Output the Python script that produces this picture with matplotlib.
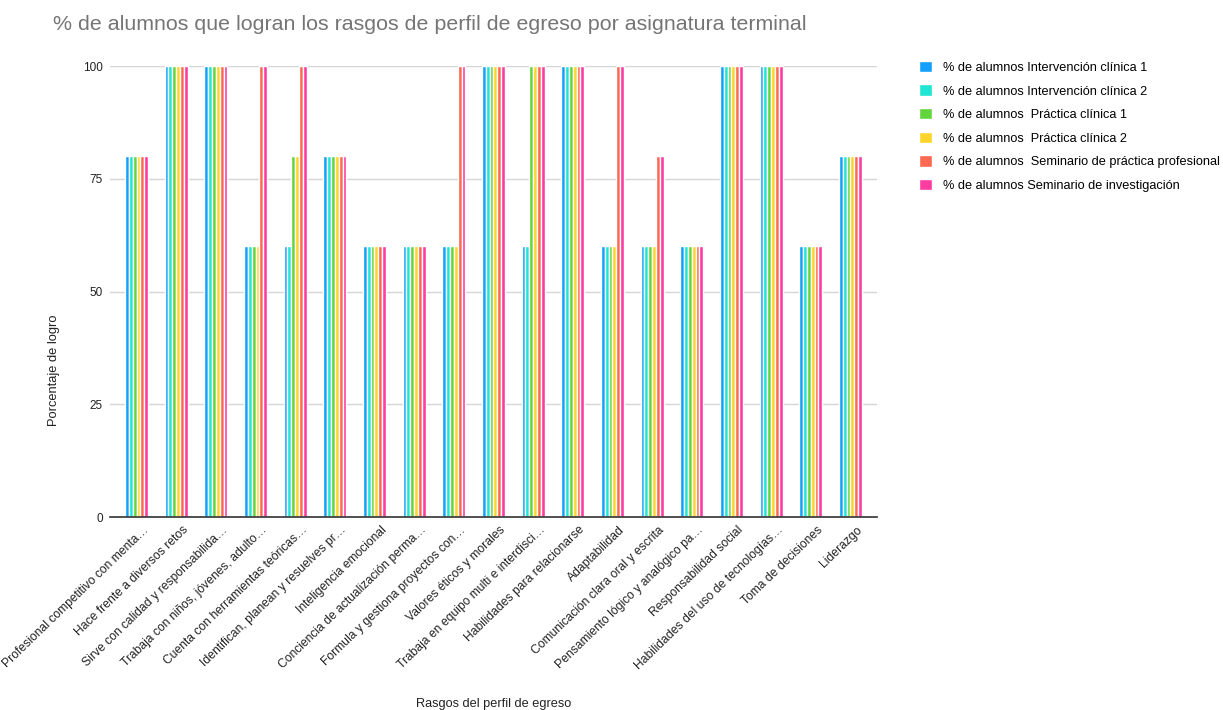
import matplotlib.pyplot as plt
import numpy as np

# rasgos del perfil de egreso (eje x)
rasgos = [
    "Profesional competitivo con menta\u2026",
    "Hace frente a diversos retos",
    "Sirve con calidad y responsabilida\u2026",
    "Trabaja con niños, jóvenes, adulto\u2026",
    "Cuenta con herramientas teóricas\u2026",
    "Identifican, planean y resuelves pr\u2026",
    "Inteligencia emocional",
    "Conciencia de actualización perma\u2026",
    "Formula y gestiona proyectos con\u2026",
    "Valores éticos y morales",
    "Trabaja en equipo multi e interdisci\u2026",
    "Habilidades para relacionarse",
    "Adaptabilidad",
    "Comunicación clara oral y escrita",
    "Pensamiento lógico y analógico pa\u2026",
    "Responsabilidad social",
    "Habilidades del uso de tecnologías\u2026",
    "Toma de decisiones",
    "Liderazgo",
]

series = [
    "% de alumnos Intervención clínica 1",
    "% de alumnos Intervención clínica 2",
    "% de alumnos  Práctica clínica 1",
    "% de alumnos  Práctica clínica 2",
    "% de alumnos  Seminario de práctica profesional",
    "% de alumnos Seminario de investigación",
]

interv_1 = [80, 100, 100, 60, 60, 80, 60, 60, 60, 100, 60, 100, 60, 60, 60, 100, 100, 60, 80]
interv_2 = [80, 100, 100, 60, 60, 80, 60, 60, 60, 100, 60, 100, 60, 60, 60, 100, 100, 60, 80]
practica_1 = [80, 100, 100, 60, 80, 80, 60, 60, 60, 100, 100, 100, 60, 60, 60, 100, 100, 60, 80]
practica_2 = [80, 100, 100, 60, 80, 80, 60, 60, 60, 100, 100, 100, 60, 60, 60, 100, 100, 60, 80]
seminario_pp = [80, 100, 100, 100, 100, 80, 60, 60, 100, 100, 100, 100, 100, 80, 60, 100, 100, 60, 80]
seminario_inv = [80, 100, 100, 100, 100, 80, 60, 60, 100, 100, 100, 100, 100, 80, 60, 100, 100, 60, 80]

valores = [interv_1, interv_2, practica_1, practica_2, seminario_pp, seminario_inv]
colores = ["#12a0fb", "#1ee6d2", "#62d43c", "#fdd52a", "#fd6950", "#fd3ca2"]

plt.rcParams['font.family'] = ['Liberation Sans', 'DejaVu Sans']

fig = plt.figure(figsize=(12.23, 7.10), dpi=100)
ax = fig.add_axes([0.0899, 0.2718, 0.6272, 0.6352])

x = np.arange(len(rasgos))
ancho = 0.097
for i in range(len(series)):
    ax.bar(x + (i - 2.5) * ancho, valores[i], ancho, color=colores[i],
           edgecolor='white', linewidth=1.0, label=series[i], zorder=3)

ax.set_xlim(-0.67, len(rasgos) - 1 + 0.67)
ax.set_ylim(0, 100)
ax.set_yticks([0, 25, 50, 75, 100])
ax.grid(axis='y', color='#d6d6d6', linewidth=1, zorder=0)
ax.set_axisbelow(True)

for lado in ['top', 'right', 'left']:
    ax.spines[lado].set_visible(False)
ax.spines['bottom'].set_color('#333333')
ax.spines['bottom'].set_linewidth(1.2)
ax.spines['bottom'].set_zorder(4)

ax.set_xticks(x + 0.15)
ax.set_xticklabels(rasgos, rotation=44, ha='right', rotation_mode='anchor', fontsize=8.7, color='#222222')
ax.tick_params(axis='x', length=0, pad=5)
ax.tick_params(axis='y', length=0, pad=5, labelsize=8.5, labelcolor='#222222')

ax.set_ylabel("Porcentaje de logro", fontsize=9.3, color='#222222')
ax.yaxis.set_label_coords(-0.065, 0.326)
ax.set_xlabel("Rasgos del perfil de egreso", fontsize=9.2, color='#222222')
ax.xaxis.set_label_coords(0.5, -0.402)

fig.text(0.043, 0.966, "% de alumnos que logran los rasgos de perfil de egreso por asignatura terminal",
         fontsize=15.4, color='#757575', va='center')

ax.legend(loc='upper left', bbox_to_anchor=(1.04, 1.037), frameon=False, fontsize=9.2,
          handlelength=1.0, handleheight=1.0, labelspacing=0.82, handletextpad=0.85)

plt.savefig('out.png', dpi=100)
